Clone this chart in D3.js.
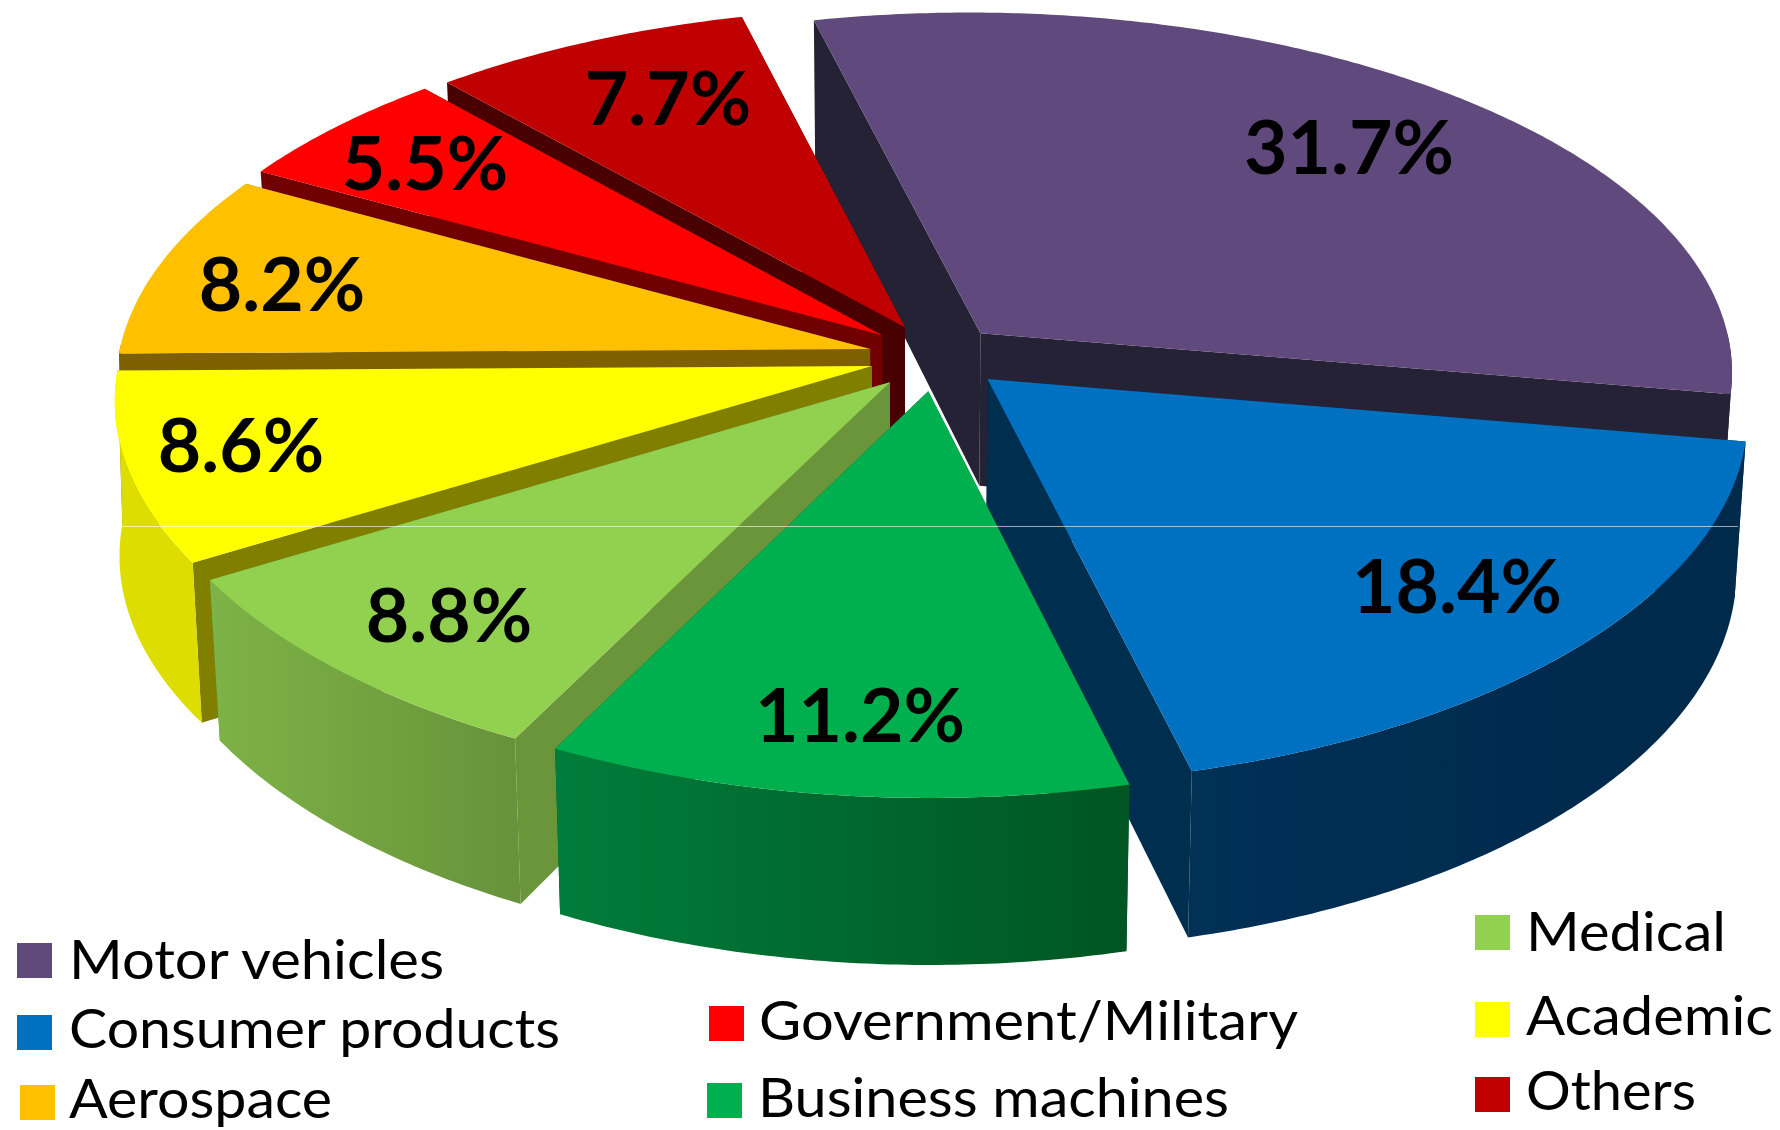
<!DOCTYPE html>
<html>
<head>
<meta charset="utf-8">
<script src="https://cdn.jsdelivr.net/npm/d3@7"></script>
<style>
    html, body { margin: 0; padding: 0; background: #fff; }
    svg { display: block; }
    text { font-family: Lato, "Open Sans", sans-serif; fill: #000; }
</style>
</head>
<body>
<div id="chart"></div>
<script>
// chart data, clockwise from the back
const categories = ["Motor vehicles", "Consumer products", "Business machines", "Medical", "Academic", "Aerospace", "Government/Military", "Others"];
const shares = [31.7, 18.4, 11.2, 8.8, 8.6, 8.2, 5.5, 7.7];

// slice colours
const topColors = ["#604a7b", "#0070c0", "#00b050", "#92d050", "#ffff00", "#ffc000", "#ff0000", "#c00000"];
const cutColors = ["#262034", "#002d50", "#005a28", "#6a953b", "#807f00", "#7f6000", "#700000", "#4a0000"];
const rimStart = ["#262034", "#003056", "#007d3a", "#7db346", "#dddd00", "#7f6000", "#700000", "#4a0000"];
const rimEnd = ["#262034", "#00294a", "#005522", "#67923a", "#dddd00", "#7f6000", "#700000", "#4a0000"];

// how far each slice is pulled out of the pie, in pixels
const explodeX = [81, 87, 28, -10, -28, -30, -18, 5];
const explodeY = [-25, 21, 33, 24, 8, -9, -23, -31];

// label and legend layout, same order as categories
const labelX = [1349, 1457, 860, 449, 241, 282, 425, 668];
const labelY = [174, 613, 742, 642, 472, 311, 190, 125];
const legendSwatchX = [17, 17, 707, 1475, 1475, 20, 709, 1475];
const legendSwatchY = [943, 1015, 1083, 915, 1002, 1085, 1006, 1077];
const legendTextX = [69, 69, 758, 1526, 1526, 69, 759, 1526];
const legendTextY = [979, 1048, 1117, 951, 1035, 1118, 1040, 1110];
const legendTextW = [375, 491, 471, 200, 247, 263, 539, 170];

const width = 1780, height = 1130;
const cx = 900, cy = 358;        // pie centre on the page
const radius = 752;
const squash = 0.5;              // tilt of the pie
const shrinkBottom = 0.985;      // lower face a bit smaller

// thickness of the pie, back to front
const depth = d3.scaleLinear().domain([-1, 1]).range([135, 172]);
// sideways lean of the walls, by distance from the centre
const lean = d3.scaleLinear().domain([-780, -690, 0, 850]).range([5, 10, 0, -11]);

const svg = d3.select("#chart").append("svg")
    .attr("width", width)
    .attr("height", height);

const defs = svg.append("defs");
defs.append("filter").attr("id", "soft")
    .append("feGaussianBlur").attr("stdDeviation", 0.6);

const pie = d3.pie().sort(null).value(d => d)
    .startAngle(-14.7 * Math.PI / 180)
    .endAngle((360 - 14.7) * Math.PI / 180);
const slices = pie(shares);

// the projected pie is not a clean ellipse: angles get pushed a little around the rim
const angleWarp = d3.scaleLinear()
    .domain([-14.7, 20, 165, 206, 238, 268, 298, 317.6, 345.3])
    .range([0.7, 0, 0, 2.3, 2.6, 1, 0, -0.6, 0])
    .clamp(true);

// perspective: the back of the pie is further away than the front
function perspective(y) {
    let t = y / radius;
    return 1 + 0.1 * t - 0.04 * t * t;
}

// world position (x, y on the pie plane) to page position
function project(x, y, bottom) {
    let t = y / radius;
    let f = perspective(y);
    let g = bottom ? shrinkBottom : 1;
    return [
        cx + x * f + (bottom ? lean(x * f) : 0),
        cy + y * squash * (f + 0.012 * t * t) * g + (bottom ? depth(t) : 0)
    ];
}

function rimPoint(i, angle, bottom) {
    let a = angle + angleWarp(angle * 180 / Math.PI) * Math.PI / 180;
    let x = explodeX[i] + radius * Math.sin(a);
    let y = explodeY[i] / squash - radius * Math.cos(a);
    return project(x, y, bottom);
}

function apexPoint(i, bottom) {
    return project(explodeX[i], explodeY[i] / squash, bottom);
}

function sampleAngles(a0, a1) {
    let n = Math.max(2, Math.ceil((a1 - a0) / 0.01));
    return d3.range(n + 1).map(k => a0 + (a1 - a0) * k / n);
}

const line = d3.line();

function gradientFor(i) {
    let id = "rim" + i;
    let g = defs.append("linearGradient").attr("id", id)
        .attr("x1", 0).attr("x2", 1).attr("y1", 0).attr("y2", 0);
    g.append("stop").attr("offset", "0%").attr("stop-color", rimStart[i]);
    g.append("stop").attr("offset", "100%").attr("stop-color", rimEnd[i]);
    return "url(#" + id + ")";
}

const pieGroup = svg.append("g").attr("filter", "url(#soft)");

// painter's order, far slices first
const drawOrder = [0, 7, 6, 5, 4, 3, 1, 2];

drawOrder.forEach(function(i) {
    let d = slices[i];
    let group = pieGroup.append("g").attr("class", "slice");
    let apexTop = apexPoint(i, false), apexBottom = apexPoint(i, true);

    // the two cut faces
    [d.startAngle, d.endAngle].forEach(function(a) {
        group.append("path")
            .attr("d", line([apexTop, rimPoint(i, a, false), rimPoint(i, a, true), apexBottom]) + "Z")
            .attr("fill", cutColors[i]);
    });

    // outer wall, only the part that faces the viewer
    let a0 = Math.max(d.startAngle, Math.PI / 2);
    let a1 = Math.min(d.endAngle, 3 * Math.PI / 2);
    if (a1 > a0) {
        let angles = sampleAngles(a0, a1);
        let wall = angles.map(a => rimPoint(i, a, false))
            .concat(angles.slice().reverse().map(a => rimPoint(i, a, true)));
        group.append("path")
            .attr("d", line(wall) + "Z")
            .attr("fill", gradientFor(i));
    }

    // top face
    let top = [apexTop].concat(sampleAngles(d.startAngle, d.endAngle).map(a => rimPoint(i, a, false)));
    group.append("path")
        .attr("d", line(top) + "Z")
        .attr("fill", topColors[i]);
});

// thin light seam running through the picture
svg.append("line")
    .attr("x1", 122).attr("x2", 1738)
    .attr("y1", 526.5).attr("y2", 526.5)
    .attr("stroke", "#fff")
    .attr("stroke-opacity", 0.6)
    .attr("stroke-width", 1);

// percentage labels
svg.append("g").attr("filter", "url(#soft)").selectAll("text")
    .data(shares)
    .enter()
    .append("text")
    .attr("x", (d, i) => labelX[i])
    .attr("y", (d, i) => labelY[i])
    .attr("text-anchor", "middle")
    .attr("font-size", 75)
    .attr("font-weight", 700)
    .text(d => d3.format(".1f")(d) + "%");

// legend
const legend = svg.append("g").selectAll("g")
    .data(categories)
    .enter()
    .append("g");

legend.append("rect")
    .attr("x", (d, i) => legendSwatchX[i])
    .attr("y", (d, i) => legendSwatchY[i])
    .attr("width", 35)
    .attr("height", 35)
    .attr("fill", (d, i) => topColors[i]);

legend.append("text")
    .attr("x", (d, i) => legendTextX[i])
    .attr("y", (d, i) => legendTextY[i])
    .attr("font-size", 54)
    .attr("textLength", (d, i) => legendTextW[i])
    .attr("lengthAdjust", "spacingAndGlyphs")
    .text(d => d);
</script>
</body>
</html>
